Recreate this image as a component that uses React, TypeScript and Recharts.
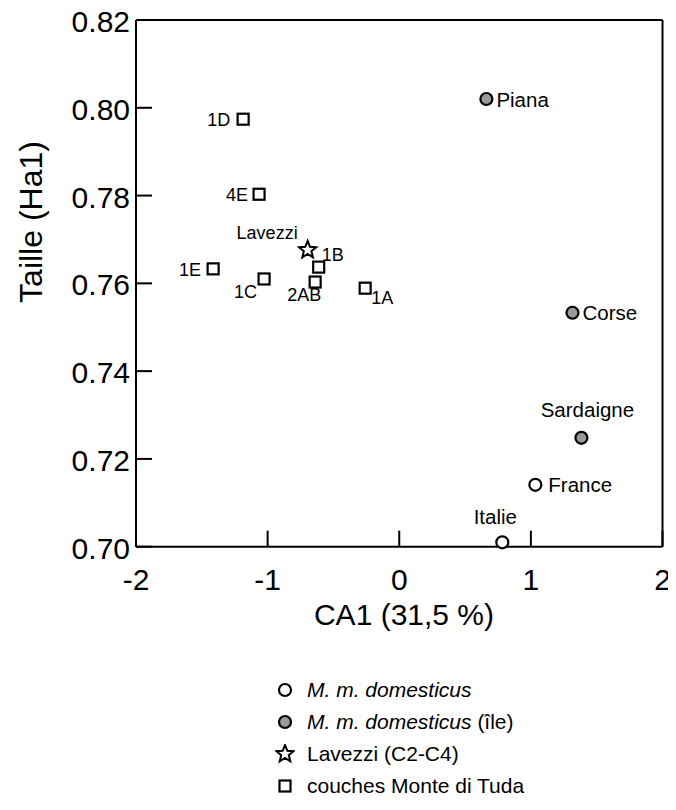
import React from 'react';
import { ScatterChart, Scatter, XAxis, YAxis, Legend } from 'recharts';

// ---------- data ----------
const xTicks = [-2, -1, 0, 1, 2];
const yTicks = [0.7, 0.72, 0.74, 0.76, 0.78, 0.8, 0.82];

const mainlandNames = ['France', 'Italie'];
const mainlandX = [1.034, 0.783];
const mainlandY = [0.7141, 0.701];

const islandNames = ['Piana', 'Corse', 'Sardaigne'];
const islandX = [0.662, 1.316, 1.384];
const islandY = [0.802, 0.7533, 0.7248];

const lavezziNames = ['Lavezzi'];
const lavezziX = [-0.696];
const lavezziY = [0.7676];

const couchesNames = ['1D', '4E', '1B', '1E', '1C', '2AB', '1A'];
const couchesX = [-1.186, -1.065, -0.612, -1.414, -1.027, -0.639, -0.259];
const couchesY = [0.7974, 0.7803, 0.7637, 0.7633, 0.761, 0.7603, 0.7589];

const legendLabels = ['M. m. domesticus', 'M. m. domesticus', 'Lavezzi (C2-C4)', 'couches Monte di Tuda'];

const build = (names: string[], xs: number[], ys: number[]) =>
  names.map((n, i) => ({ name: n, x: xs[i], y: ys[i] }));

const mainland = build(mainlandNames, mainlandX, mainlandY);
const island = build(islandNames, islandX, islandY);
const lavezzi = build(lavezziNames, lavezziX, lavezziY);
const couches = build(couchesNames, couchesX, couchesY);

// ---------- layout / style ----------
const FONT = '"Liberation Sans", Arial, Helvetica, sans-serif';
const W = 668;
const H = 800;
const PL = 128;
const PR = 654.5;
const PT = 20;
const PB = 546.7;
const TICK = 16;
const AX = 1; // axis thickness reserved by recharts

const labelPos: Record<string, { dx: number; dy: number; anchor: 'start' | 'middle' | 'end' }> = {
  '1D': { dx: -13, dy: 7, anchor: 'end' },
  '4E': { dx: -11, dy: 7, anchor: 'end' },
  Lavezzi: { dx: -10, dy: -11, anchor: 'end' },
  '1B': { dx: 3, dy: -6, anchor: 'start' },
  '1E': { dx: -12, dy: 7, anchor: 'end' },
  '1C': { dx: -7, dy: 19.5, anchor: 'end' },
  '2AB': { dx: -11, dy: 19, anchor: 'middle' },
  '1A': { dx: 6, dy: 15.5, anchor: 'start' },
  Piana: { dx: 10, dy: 7.5, anchor: 'start' },
  Corse: { dx: 10, dy: 7.5, anchor: 'start' },
  Sardaigne: { dx: 6, dy: -20.5, anchor: 'middle' },
  France: { dx: 13, dy: 7.5, anchor: 'start' },
  Italie: { dx: -7, dy: -18, anchor: 'middle' },
};

const starPoints = (cx: number, cy: number, ro: number, ri: number) => {
  const pts: string[] = [];
  for (let k = 0; k < 10; k++) {
    const r = k % 2 === 0 ? ro : ri;
    const a = -Math.PI / 2 + (k * Math.PI) / 5;
    pts.push(`${cx + r * Math.cos(a)},${cy + r * Math.sin(a)}`);
  }
  return pts.join(' ');
};

const Marker = ({ kind, cx, cy }: { kind: string; cx: number; cy: number }) => {
  if (kind === 'circle') return <circle cx={cx} cy={cy} r={6} fill="#fff" stroke="#000" strokeWidth={2.2} />;
  if (kind === 'grey') return <circle cx={cx} cy={cy} r={6} fill="#999" stroke="#000" strokeWidth={2.2} />;
  if (kind === 'star')
    return <polygon points={starPoints(cx, cy, 9, 4)} fill="#fff" stroke="#000" strokeWidth={2} strokeLinejoin="miter" />;
  return <rect x={cx - 5.5} y={cy - 5.5} width={11} height={11} fill="#fff" stroke="#000" strokeWidth={2.2} />;
};

const makeShape = (kind: string, fontSize: number) => (props: any) => {
  const { cx, cy, payload } = props;
  const lp = labelPos[payload.name];
  return (
    <g>
      <Marker kind={kind} cx={cx} cy={cy} />
      <text
        x={cx + lp.dx}
        y={cy + lp.dy}
        textAnchor={lp.anchor}
        fontSize={fontSize}
        fontFamily={FONT}
        fill="#000"
      >
        {payload.name}
      </text>
    </g>
  );
};

const BottomTick = (props: any) => {
  const { x, payload } = props;
  return (
    <g>
      <line x1={x} x2={x} y1={PB} y2={PB - TICK} stroke="#000" strokeWidth={2} />
      <text x={x} y={PB + 43} textAnchor="middle" fontSize={30} fontFamily={FONT} fill="#000">
        {payload.value}
      </text>
    </g>
  );
};

const TopTick = (props: any) => {
  const { x } = props;
  return <line x1={x} x2={x} y1={PT} y2={PT + TICK} stroke="#000" strokeWidth={2} />;
};

const LeftTick = (props: any) => {
  const { y, payload } = props;
  return (
    <g>
      <line x1={PL} x2={PL + TICK} y1={y} y2={y} stroke="#000" strokeWidth={2} />
      <text x={PL - 6} y={y + 12} textAnchor="end" fontSize={30} fontFamily={FONT} fill="#000">
        {Number(payload.value).toFixed(2)}
      </text>
    </g>
  );
};

const RightTick = (props: any) => {
  const { y } = props;
  return <line x1={PR} x2={PR - TICK} y1={y} y2={y} stroke="#000" strokeWidth={2} />;
};

const LegendIcon = ({ kind }: { kind: string }) => (
  <svg width={20} height={20} style={{ display: 'block' }}>
    <Marker kind={kind} cx={10} cy={10} />
  </svg>
);

const legendKinds = ['circle', 'grey', 'star', 'square'];

const LegendContent = () => (
  <div style={{ fontFamily: FONT, fontSize: 21, color: '#000' }}>
    {legendKinds.map((k, i) => (
      <div key={k} style={{ display: 'flex', alignItems: 'center', height: 32 }}>
        <LegendIcon kind={k} />
        <span style={{ marginLeft: 12, whiteSpace: 'nowrap' }}>
          {i < 2 ? <i>{legendLabels[i]}</i> : legendLabels[i]}
          {i === 1 ? ' (île)' : ''}
        </span>
      </div>
    ))}
  </div>
);

export default function App() {
  return (
    <div style={{ marginTop: -8, width: W, height: H }}>
      <ScatterChart
        width={W}
        height={H}
        margin={{ top: PT - AX, right: W - PR - AX, bottom: H - PB - AX, left: PL - AX }}
        style={{ fontFamily: FONT }}
      >
        <XAxis
          xAxisId="b"
          type="number"
          dataKey="x"
          domain={[-2, 2]}
          ticks={xTicks}
          orientation="bottom"
          height={AX}
          tickLine={false}
          axisLine={{ stroke: '#000', strokeWidth: 2 }}
          tick={<BottomTick />}
          interval={0}
          label={{
            content: () => (
              <text x={396} y={625} textAnchor="middle" fontSize={30} fontFamily={FONT} fill="#000">
                CA1 (31,5 %)
              </text>
            ),
          }}
        />
        <XAxis
          xAxisId="t"
          type="number"
          dataKey="x"
          domain={[-2, 2]}
          ticks={xTicks}
          orientation="top"
          height={AX}
          tickLine={false}
          axisLine={{ stroke: '#000', strokeWidth: 2 }}
          tick={<TopTick />}
          interval={0}
        />
        <YAxis
          yAxisId="l"
          type="number"
          dataKey="y"
          domain={[0.7, 0.82]}
          ticks={yTicks}
          orientation="left"
          width={AX}
          tickLine={false}
          axisLine={{ stroke: '#000', strokeWidth: 2 }}
          tick={<LeftTick />}
          interval={0}
          label={{
            content: () => (
              <text
                x={34}
                y={222}
                transform="rotate(-90 34 222)"
                textAnchor="middle"
                fontSize={32}
                fontFamily={FONT}
                fill="#000"
              >
                Taille (Ha1)
              </text>
            ),
          }}
        />
        <YAxis
          yAxisId="r"
          type="number"
          dataKey="y"
          domain={[0.7, 0.82]}
          ticks={yTicks}
          orientation="right"
          width={AX}
          tickLine={false}
          axisLine={{ stroke: '#000', strokeWidth: 2 }}
          tick={<RightTick />}
          interval={0}
        />
        <Scatter
          name="mainland"
          data={mainland}
          xAxisId="b"
          yAxisId="l"
          isAnimationActive={false}
          shape={makeShape('circle', 20.5)}
        />
        <Scatter
          name="island"
          data={island}
          xAxisId="b"
          yAxisId="l"
          isAnimationActive={false}
          shape={makeShape('grey', 20.5)}
        />
        <Scatter
          name="lavezzi"
          data={lavezzi}
          xAxisId="b"
          yAxisId="l"
          isAnimationActive={false}
          shape={makeShape('star', 18)}
        />
        <Scatter
          name="couches"
          data={couches}
          xAxisId="b"
          yAxisId="l"
          isAnimationActive={false}
          shape={makeShape('square', 18)}
        />
        <Scatter
          name="frame"
          data={[]}
          xAxisId="t"
          yAxisId="r"
          isAnimationActive={false}
          legendType="none"
        />
        <Legend
          layout="horizontal"
          verticalAlign="middle"
          align="center"
          content={<LegendContent />}
          wrapperStyle={{ left: 267, top: 674, width: 320, height: 130, margin: 0, padding: 0 }}
        />
      </ScatterChart>
    </div>
  );
}
